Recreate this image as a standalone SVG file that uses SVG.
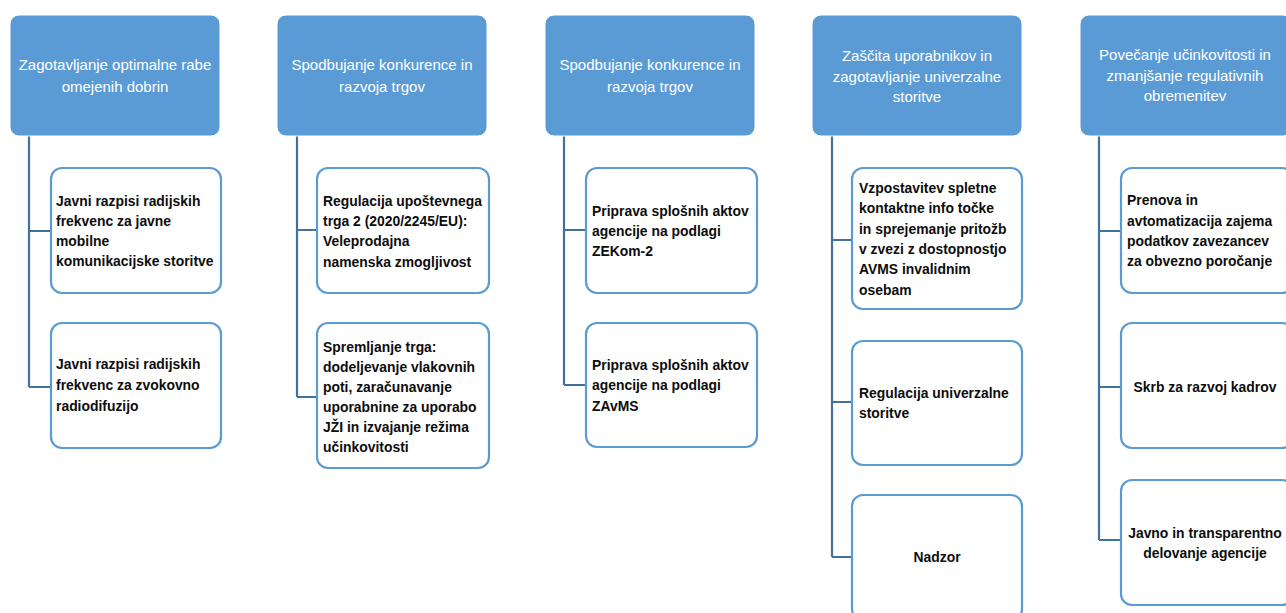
<svg xmlns="http://www.w3.org/2000/svg" width="1286" height="613" viewBox="0 0 1286 613">
<style>
.hdr{fill:#5B9BD5;stroke:#ffffff;stroke-width:1}
.ht{font-family:"Liberation Sans",Arial,sans-serif;font-size:15px;fill:#ffffff;text-anchor:middle}
.box{fill:#ffffff;stroke:#5B9BD5;stroke-width:2.2}
.bt{font-family:"Liberation Sans",Arial,sans-serif;font-size:13.9px;font-weight:bold;fill:#0d0d0d}
.c{text-anchor:middle}
.con{fill:none;stroke:#41719C;stroke-width:2.2}
</style>
<rect width="1286" height="613" fill="#ffffff"/>
<g id="connectors">
<path class="con" d="M29 136V387M29 231H51M29 387H51"/>
<path class="con" d="M297 136V397M297 230H317M297 397H317"/>
<path class="con" d="M564 136V385M564 230H586M564 385H586"/>
<path class="con" d="M832 136V557M832 240H852M832 402H852M832 557H852"/>
<path class="con" d="M1099 136V540M1099 231H1121M1099 387H1121M1099 540H1121"/>
</g>
<g id="h1"><rect class="hdr" x="10" y="15" width="210" height="121" rx="9"/>
<text class="ht" x="115" y="70">Zagotavljanje optimalne rabe</text><text class="ht" x="115" y="92">omejenih dobrin</text></g>
<g id="h2"><rect class="hdr" x="277" y="15" width="210" height="121" rx="9"/>
<text class="ht" x="382" y="70">Spodbujanje konkurence in</text><text class="ht" x="382" y="92">razvoja trgov</text></g>
<g id="h3"><rect class="hdr" x="545" y="15" width="210" height="121" rx="9"/>
<text class="ht" x="650" y="70">Spodbujanje konkurence in</text><text class="ht" x="650" y="92">razvoja trgov</text></g>
<g id="h4"><rect class="hdr" x="812" y="15" width="210" height="121" rx="9"/>
<text class="ht" x="917" y="61">Zaščita uporabnikov in</text><text class="ht" x="917" y="82">zagotavljanje univerzalne</text><text class="ht" x="917" y="102">storitve</text></g>
<g id="h5"><rect class="hdr" x="1080" y="15" width="212" height="121" rx="9"/>
<text class="ht" x="1185" y="60">Povečanje učinkovitosti in</text><text class="ht" x="1185" y="81">zmanjšanje regulativnih</text><text class="ht" x="1185" y="101">obremenitev</text></g>

<g id="n1a"><rect class="box" x="51" y="168" width="170" height="125" rx="11"/>
<text class="bt" x="56" y="206">Javni razpisi radijskih</text><text class="bt" x="56" y="226">frekvenc za javne</text><text class="bt" x="56" y="246">mobilne</text><text class="bt" x="56" y="266">komunikacijske storitve</text></g>
<g id="n1b"><rect class="box" x="51" y="323" width="170" height="125" rx="11"/>
<text class="bt" x="56" y="369">Javni razpisi radijskih</text><text class="bt" x="56" y="390">frekvenc za zvokovno</text><text class="bt" x="56" y="411">radiodifuzijo</text></g>

<g id="n2a"><rect class="box" x="317" y="168" width="172" height="125" rx="11"/>
<text class="bt" x="323" y="206">Regulacija upoštevnega</text><text class="bt" x="323" y="226">trga 2 (2020/2245/EU):</text><text class="bt" x="323" y="246">Veleprodajna</text><text class="bt" x="323" y="267">namenska zmogljivost</text></g>
<g id="n2b"><rect class="box" x="317" y="323" width="172" height="145" rx="11"/>
<text class="bt" x="323" y="352">Spremljanje trga:</text><text class="bt" x="323" y="372">dodeljevanje vlakovnih</text><text class="bt" x="323" y="392">poti, zaračunavanje</text><text class="bt" x="323" y="412">uporabnine za uporabo</text><text class="bt" x="323" y="432">JŽI in izvajanje režima</text><text class="bt" x="323" y="452">učinkovitosti</text></g>

<g id="n3a"><rect class="box" x="586" y="168" width="171" height="125" rx="11"/>
<text class="bt" x="592" y="216">Priprava splošnih aktov</text><text class="bt" x="592" y="236">agencije na podlagi</text><text class="bt" x="592" y="256">ZEKom-2</text></g>
<g id="n3b"><rect class="box" x="586" y="323" width="171" height="124" rx="11"/>
<text class="bt" x="592" y="370">Priprava splošnih aktov</text><text class="bt" x="592" y="390">agencije na podlagi</text><text class="bt" x="592" y="411">ZAvMS</text></g>

<g id="n4a"><rect class="box" x="852" y="168" width="170" height="141" rx="11"/>
<text class="bt" x="859" y="193">Vzpostavitev spletne</text><text class="bt" x="859" y="213">kontaktne info točke</text><text class="bt" x="859" y="234">in sprejemanje pritožb</text><text class="bt" x="859" y="254">v zvezi z dostopnostjo</text><text class="bt" x="859" y="274">AVMS invalidnim</text><text class="bt" x="859" y="295">osebam</text></g>
<g id="n4b"><rect class="box" x="852" y="341" width="170" height="124" rx="11"/>
<text class="bt" x="859" y="398">Regulacija univerzalne</text><text class="bt" x="859" y="418">storitve</text></g>
<g id="n4c"><rect class="box" x="852" y="495" width="170" height="125" rx="11"/>
<text class="bt c" x="937" y="562">Nadzor</text></g>

<g id="n5a"><rect class="box" x="1121" y="168" width="172" height="125" rx="11"/>
<text class="bt" x="1127" y="205">Prenova in</text><text class="bt" x="1127" y="226">avtomatizacija zajema</text><text class="bt" x="1127" y="246">podatkov zavezancev</text><text class="bt" x="1127" y="266">za obvezno poročanje</text></g>
<g id="n5b"><rect class="box" x="1121" y="323" width="172" height="125" rx="11"/>
<text class="bt c" x="1205" y="392">Skrb za razvoj kadrov</text></g>
<g id="n5c"><rect class="box" x="1121" y="480" width="172" height="125" rx="11"/>
<text class="bt c" x="1205" y="538">Javno in transparentno</text><text class="bt c" x="1205" y="558">delovanje agencije</text></g>
</svg>
